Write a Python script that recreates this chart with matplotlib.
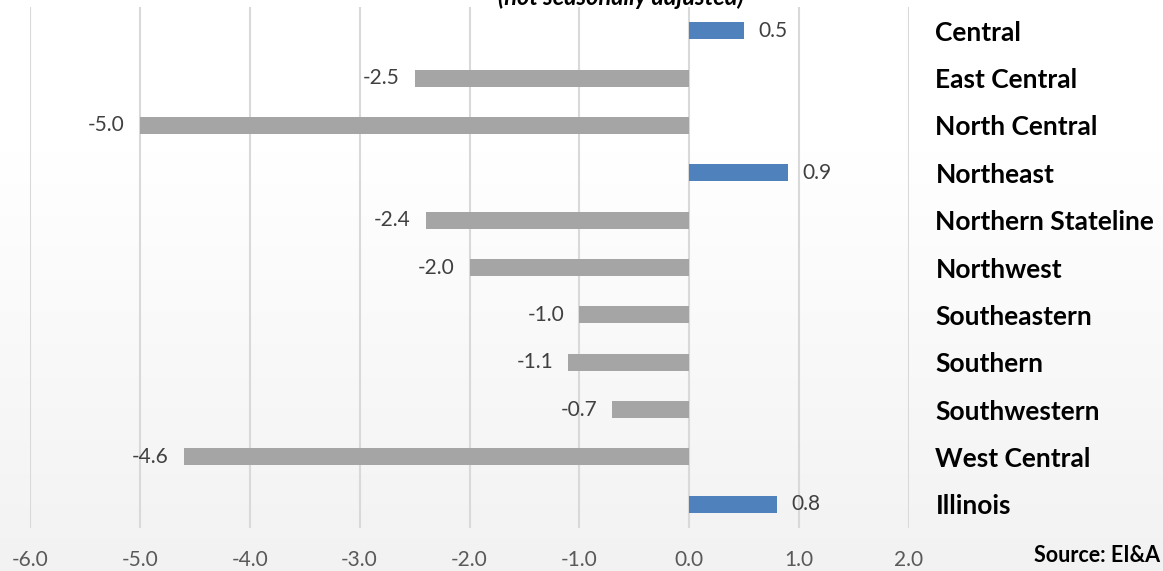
import matplotlib
matplotlib.use("Agg")
import matplotlib.pyplot as plt
import numpy as np
from matplotlib.colors import LinearSegmentedColormap

categories = ["Central", "East Central", "North Central", "Northeast", "Northern Stateline",
              "Northwest", "Southeastern", "Southern", "Southwestern", "West Central", "Illinois"]
values = [0.5, -2.5, -5.0, 0.9, -2.4, -2.0, -1.0, -1.1, -0.7, -4.6, 0.8]
xticks = [-6.0, -5.0, -4.0, -3.0, -2.0, -1.0, 0.0, 1.0, 2.0]

FONT = ["Lato", "DejaVu Sans"]
plt.rcParams['font.family'] = FONT

W, H = 1163, 571
fig = plt.figure(figsize=(W / 100, H / 100), dpi=100)

# background gradient
bg = fig.add_axes([0, 0, 1, 1], zorder=-10)
grad = np.concatenate([np.zeros(150), np.linspace(0, 1, 421)])[:, None]
cmap = LinearSegmentedColormap.from_list("g", ["#ffffff", "#f2f2f2"])
bg.imshow(grad, aspect="auto", cmap=cmap, extent=[0, 1, 0, 1], origin="upper")
bg.axis("off")

left = 30 / W
right = 909 / W
bottom = 1 - 528 / H
top = 1 - 7 / H
ax = fig.add_axes([left, bottom, right - left, top - bottom])
ax.set_facecolor("none")

y = np.arange(len(categories))
colors = ["#4F81BD" if v > 0 else "#A5A5A5" for v in values]
ax.barh(y, values, height=0.36, color=colors, zorder=3)
ax.set_ylim(len(categories) - 0.5, -0.5)
ax.set_xlim(-6.0, 2.0)

ax.set_xticks(xticks)
ax.set_xticklabels([f"{t:.1f}" for t in xticks], fontsize=15, color="#595959")
ax.tick_params(axis="x", length=0, pad=16)
ax.grid(axis="x", color="#d9d9d9", linewidth=1.5, zorder=0)
ax.set_axisbelow(True)

ax.yaxis.tick_right()
ax.set_yticks(y)
ax.set_yticklabels(categories, fontsize=19, fontweight="bold", color="black")
ax.tick_params(axis="y", length=0, pad=19)
for s in ax.spines.values():
    s.set_visible(False)

for yi, v in zip(y, values):
    if v >= 0:
        ax.annotate(f"{v:.1f}", (v, yi), xytext=(10, 0), textcoords="offset points",
                    ha="left", va="center", fontsize=15, color="#404040")
    else:
        ax.annotate(f"{v:.1f}", (v, yi), xytext=(-11, 0), textcoords="offset points",
                    ha="right", va="center", fontsize=15, color="#404040")

fig.text(621 / W, 1 - 5 / H, "(not seasonally adjusted)", ha="center", va="baseline",
         fontsize=17, fontweight="bold", fontstyle="italic", color="black")
fig.text(1160 / W, 1 - 555 / H, "Source: EI&A", ha="right", va="center",
         fontsize=15.5, fontweight="bold", color="black")

fig.savefig("out.png", dpi=100)
